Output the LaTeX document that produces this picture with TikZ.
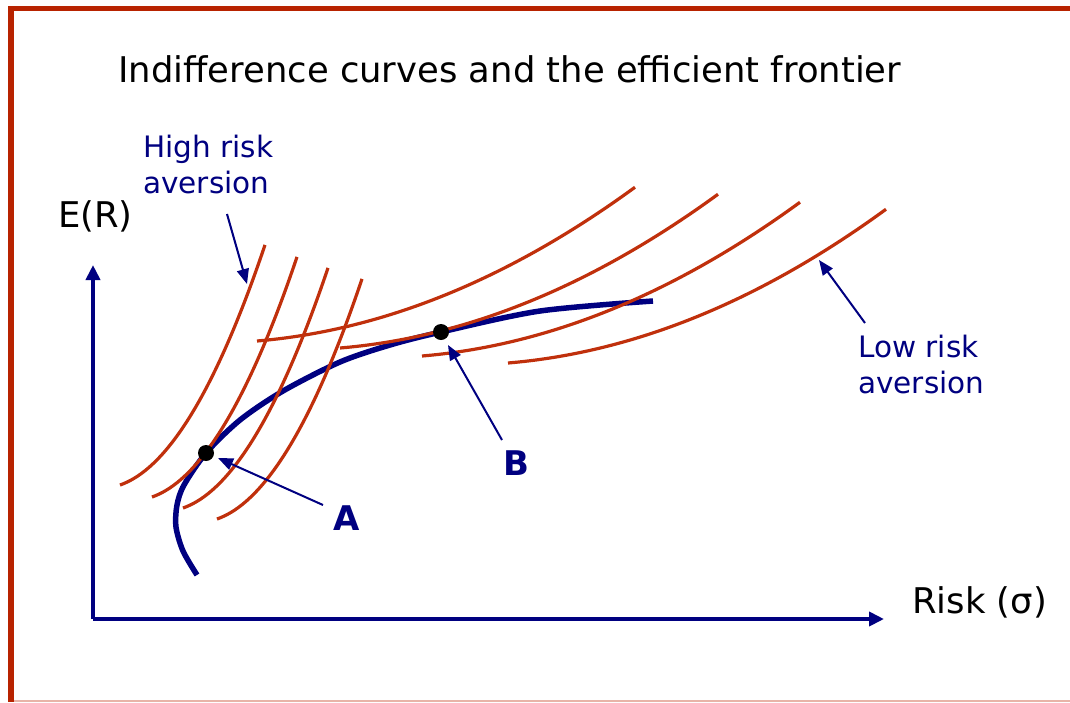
\documentclass[tikz,border=0pt]{standalone}
\usepackage{fontspec}
\setmainfont{DejaVu Sans}
\usepackage{xcolor}
\usepackage{tikz}
\usetikzlibrary{arrows.meta}
\definecolor{RRnavy}{HTML}{000080}
\definecolor{RRred}{HTML}{C0300C}
\definecolor{RRframe}{HTML}{B82300}
\definecolor{RRpink}{HTML}{E8B4A8}
\tikzset{
  bigtext/.style={inner sep=0pt, text=black, font=\fontsize{35.4}{42}\selectfont},
  notetext/.style={inner sep=0pt, text=RRnavy, align=left, font=\fontsize{29.5}{36}\selectfont},
  pointtext/.style={inner sep=0pt, text=RRnavy, font=\fontsize{34}{40}\selectfont\bfseries},
  axisarr/.style={line width=4pt, draw=RRnavy, -{Triangle[length=15pt, width=14pt]}},
  notearr/.style={line width=2pt, draw=RRnavy, -{Triangle[length=15pt, width=12pt]}},
  frontier/.style={line width=5.5pt, draw=RRnavy},
  icurve/.style={line width=3.2pt, draw=RRred},
  dot/.style={circle, fill=black, inner sep=0pt, minimum size=16pt}
}

\begin{document}
\begin{tikzpicture}[x=1pt, y=-1pt]
\useasboundingbox (0,0) rectangle (1070,702);
% frame
\draw[RRpink, line width=1.2pt] (8,701) -- (1070,701);
\draw[RRframe, line width=5pt] (8,8.5) -- (1070,8.5);
\draw[RRframe, line width=6pt] (11,6) -- (11,702);

\node[bigtext, anchor=base west] (title) at (118,82) {Indifference curves and the efficient frontier};

% axes
\coordinate (origin) at (93,619);
\coordinate (ytip) at (93,265);
\coordinate (xtip) at (884,619);
\draw[axisarr] (origin) -- (ytip);
\draw[axisarr] (origin) -- (xtip);
\node[bigtext, anchor=base west] (ylabel) at (58,227) {E(R)};
\node[bigtext, anchor=base west] (xlabel) at (912,613) {Risk (σ)};

% efficient frontier
\draw[frontier] plot[smooth] coordinates {(197,575) (183,551) (176,527) (177,505) (184,485) (206,453) (240,420) (283,391) (340,362) (390,345) (441,332) (540,311) (653,301)};

% indifference curves
\foreach \sx/\sy in {120/485,152/497,183/508,217/519}
  \draw[icurve, shift={(\sx,\sy)}] plot[domain=0:145, samples=40, smooth] (\x, {-0.00903*\x*\x - 0.346*\x});
\foreach \sx/\sy in {257/341,340/348,422/356,508/363}
  \draw[icurve, shift={(\sx,\sy)}] plot[domain=0:378, samples=40, smooth] (\x, {-0.000856*\x*\x - 0.0838*\x});

% tangency points
\node[dot] (ptA) at (206,453) {};
\node[dot] (ptB) at (441,332) {};

% labels
\node[notetext, anchor=north west] (high) at (143,135) {High risk\\aversion};
\node[notetext, anchor=north west] (low) at (858,335) {Low risk\\aversion};
\node[pointtext, anchor=base west] (lblA) at (333,530) {A};
\node[pointtext, anchor=base west] (lblB) at (503,475) {B};

\coordinate (highTail) at (227,214);
\coordinate (highTip) at (247,284);
\coordinate (lowTail) at (865,323);
\coordinate (lowTip) at (819,260);
\coordinate (aTail) at (323,505);
\coordinate (aTip) at (218,458);
\coordinate (bTail) at (502,440);
\coordinate (bTip) at (448,345);
\draw[notearr] (highTail) -- (highTip);
\draw[notearr] (lowTail) -- (lowTip);
\draw[notearr] (aTail) -- (aTip);
\draw[notearr] (bTail) -- (bTip);
\end{tikzpicture}
\end{document}
